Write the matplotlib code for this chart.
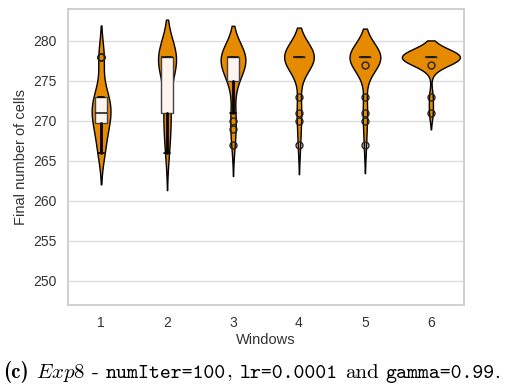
import numpy as np
import pandas as pd
import matplotlib
matplotlib.use("Agg")
import matplotlib.pyplot as plt
import seaborn as sns

# Final number of cells per run, for each window
windows = [1, 2, 3, 4, 5, 6]
cells_w1 = [266, 266, 267, 268, 269, 270, 270, 270, 271, 271,
            271, 272, 272, 273, 273, 273, 273, 278, 278, 278]
cells_w2 = [266, 267, 269, 270, 271, 271, 273, 275, 276, 278,
            278, 278, 278, 278, 278, 278, 278, 278, 278, 278]
cells_w3 = [267, 269, 270, 271, 275, 275, 276, 277, 277, 278,
            278, 278, 278, 278, 278, 278, 278, 278, 278, 278]
cells_w4 = [267, 270, 271, 273, 278, 278, 278, 278, 278, 278,
            278, 278, 278, 278, 278, 278, 278, 278, 278, 278]
cells_w5 = [267, 270, 271, 273, 277, 278, 278, 278, 278, 278,
            278, 278, 278, 278, 278, 278, 278, 278, 278, 278, 278]
cells_w6 = [271, 273, 277, 278, 278, 278, 278, 278, 278, 278,
            278, 278, 278, 278, 278, 278, 278, 278, 278, 278]
all_cells = [cells_w1, cells_w2, cells_w3, cells_w4, cells_w5, cells_w6]

# caption pieces: (text, font)
caption_parts = [("(c)", "cmb10"), ("$\\mathit{Exp8}$", None), ("-", "cmr10"),
                 ("numIter=100", "cmtt10"), (",", "cmr10"),
                 ("lr=0.0001", "cmtt10"), ("and", "cmr10"),
                 ("gamma=0.99", "cmtt10"), (".", "cmr10")]

df = pd.DataFrame({
    "Windows": np.repeat(windows, [len(c) for c in all_cells]),
    "cells": np.concatenate(all_cells),
})

sns.set_theme(style="whitegrid")
plt.rcParams["font.family"] = ["Liberation Sans", "DejaVu Sans"]
plt.rcParams["mathtext.fontset"] = "cm"

orange = "#e68a00"

fig = plt.figure(figsize=(5.12, 3.86), dpi=100)
ax = fig.add_axes([0.133, 0.21, 0.773, 0.767])

sns.violinplot(data=df, x="Windows", y="cells", inner=None, color=orange,
               saturation=1, linewidth=1, linecolor="black", width=0.88, ax=ax)

ax.boxplot(all_cells, positions=range(len(windows)), widths=0.18,
           patch_artist=True, manage_ticks=False, zorder=3,
           boxprops=dict(facecolor="#fff4ee", edgecolor="#444444", linewidth=1),
           medianprops=dict(color="#222222", linewidth=1.2),
           whiskerprops=dict(color="black", linewidth=2),
           capprops=dict(color="black", linewidth=1.2),
           flierprops=dict(marker="o", markerfacecolor="none",
                           markeredgecolor="#222222", markersize=5,
                           markeredgewidth=1))

ax.set_ylim(247, 284)
ax.set_yticks([250, 255, 260, 265, 270, 275, 280])
ax.set_xlim(-0.5, 5.5)
ax.grid(axis="x", visible=False)
ax.grid(axis="y", color="#dddddd", linewidth=1)
for s in ax.spines.values():
    s.set_color("#cccccc")
ax.tick_params(labelsize=10, colors="#333333", pad=2)
ax.set_xlabel("Windows", fontsize=10.5, color="#333333", labelpad=2)
ax.set_ylabel("Final number of cells", fontsize=10.5, color="#333333")

# caption under the plot, built piece by piece to mix fonts
renderer = fig.canvas.get_renderer()
x = 3.0
fs = 15
gaps = [7, 7, 7, 0, 8, 7, 7, 0, 0]
for (txt, fam), gap in zip(caption_parts, gaps):
    kw = {} if fam is None else {"family": fam}
    t = fig.text(x / 512, 0.022, txt, fontsize=fs, color="black", va="baseline", **kw)
    bb = t.get_window_extent(renderer)
    x = bb.x1 + gap

fig.savefig("out.png", dpi=100)
